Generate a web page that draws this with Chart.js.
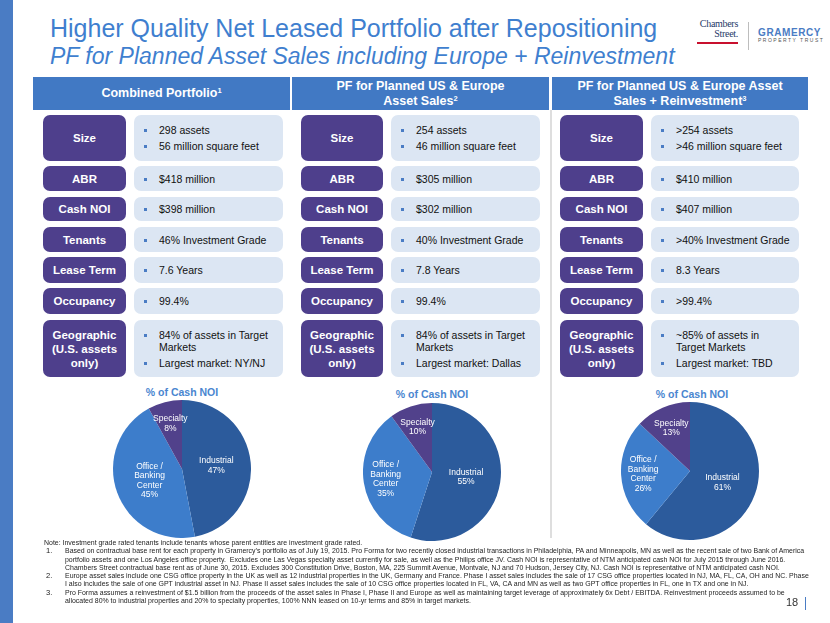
<!DOCTYPE html>
<html>
<head>
<meta charset="utf-8">
<title>Higher Quality Net Leased Portfolio after Repositioning</title>
<script src="https://cdn.jsdelivr.net/npm/chart.js@4.4.0/dist/chart.umd.min.js"></script>
<style>
  body { margin: 0; width: 830px; height: 623px; position: relative; overflow: hidden; background: #fff;
         font-family: "Liberation Sans", Arial, sans-serif; }
  .abs { position: absolute; }
  .strip { left: 0; top: 0; width: 13px; height: 623px; background: #4a7cc4; }
  .title { left: 50px; top: 14px; font-size: 25px; color: #3f7fcf; white-space: nowrap; }
  .subtitle { left: 50px; top: 43px; font-size: 23px; font-style: italic; color: #3f7fcf; white-space: nowrap; }
  .hdr { top: 77px; height: 33px; background: #4179c4; color: #fff; font-weight: bold; font-size: 12.5px;
         line-height: 14.5px; display: flex; align-items: center; justify-content: center; text-align: center; }
  .hdr .sup { font-size: 7.5px; position: relative; top: -4px; line-height: 0; }
  .lab { background: #4e3f8c; color: #fff; font-weight: bold; font-size: 11.5px; line-height: 14px;
         border-radius: 7px; display: flex; align-items: center; justify-content: center; text-align: center; }
  .val { background: #dce6f3; color: #111; font-size: 10.5px; line-height: 12px; border-radius: 7px;
         display: flex; flex-direction: column; justify-content: center; }
  .val div { position: relative; padding-left: 25px; white-space: nowrap; }
  .val div + div { margin-top: 4px; }
  .val div::before { content: ""; position: absolute; left: 10px; top: 5px; width: 3px; height: 3px; background: #4a7cc4; }
  .pietitle { width: 120px; text-align: center; font-weight: bold; font-size: 10.5px; color: #4a86d0; }
  .divider { left: 550px; top: 110px; width: 2px; height: 428px; background: #dedede; }
  .notes { left: 44px; top: 539px; font-family: "Liberation Sans Narrow", "Arial Narrow", "Liberation Sans", sans-serif;
           font-size: 7.6px; line-height: 8.3px; color: #222; white-space: nowrap; }
  .notes .row { display: flex; }
  .notes .num { width: 21px; padding-left: 2px; box-sizing: border-box; flex: none; }
  .notes .ntxt { flex: none; transform-origin: 0 0; }
</style>
</head>
<body>
<div class="abs strip"></div>
<div class="abs title">Higher Quality Net Leased Portfolio after Repositioning</div>
<div class="abs subtitle">PF for Planned Asset Sales including Europe + Reinvestment</div>

<div class="abs" style="left:680px;top:19px;width:58px;text-align:right;font-family:'Liberation Serif',serif;font-size:10px;line-height:10px;color:#1f3a68;letter-spacing:-0.3px;">Chambers<br>Street.</div>
<div class="abs" style="left:697px;top:42px;width:41px;height:2px;background:#c8102e;"></div>
<div class="abs" style="left:748px;top:22px;width:1px;height:28px;background:#bdbdbd;"></div>
<div class="abs" style="left:758px;top:27px;font-weight:bold;font-size:10px;letter-spacing:0.6px;color:#4a7cc4;">GRAMERCY</div>
<div class="abs" style="left:758px;top:37px;font-size:5px;letter-spacing:1.5px;color:#555;">PROPERTY TRUST</div>

<div id="table"></div>
<div class="abs divider"></div>

<div class="abs pietitle" style="left:122px;top:386px;">% of Cash NOI</div>
<div class="abs pietitle" style="left:372px;top:388px;">% of Cash NOI</div>
<div class="abs pietitle" style="left:632px;top:388px;">% of Cash NOI</div>
<canvas id="pie1" class="abs" width="138" height="138" style="left:113px;top:400px;"></canvas>
<canvas id="pie2" class="abs" width="138" height="138" style="left:363px;top:403px;"></canvas>
<canvas id="pie3" class="abs" width="138" height="138" style="left:621px;top:402px;"></canvas>

<div class="abs notes">
  <div class="row"><div class="ntxt">Note: Investment grade rated tenants include tenants whose parent entities are investment grade rated.</div></div>
  <div class="row"><div class="num">1.</div><div class="ntxt" id="note1">Based on contractual base rent for each property in Gramercy’s portfolio as of July 19, 2015. Pro Forma for two recently closed industrial transactions in Philadelphia, PA and Minneapolis, MN as well as the recent sale of two Bank of America<br>portfolio assets and one Los Angeles office property.&nbsp; Excludes one Las Vegas specialty asset currently for sale, as well as the Philips office JV. Cash NOI is representative of NTM anticipated cash NOI for July 2015 through June 2016.<br>Chambers Street contractual base rent as of June 30, 2015. Excludes 300 Constitution Drive, Boston, MA, 225 Summit Avenue, Montvale, NJ and 70 Hudson, Jersey City, NJ. Cash NOI is representative of NTM anticipated cash NOI.</div></div>
  <div class="row"><div class="num">2.</div><div class="ntxt">Europe asset sales include one CSG office property in the UK as well as 12 industrial properties in the UK, Germany and France. Phase I asset sales includes the sale of 17 CSG office properties located in NJ, MA, FL, CA, OH and NC. Phase<br>I also includes the sale of one GPT industrial asset in NJ. Phase II asset sales includes the sale of 10 CSG office properties located in FL, VA, CA and MN as well as two GPT office properties in FL, one in TX and one in NJ.</div></div>
  <div class="row"><div class="num">3.</div><div class="ntxt">Pro Forma assumes a reinvestment of $1.5 billion from the proceeds of the asset sales in Phase I, Phase II and Europe as well as maintaining target leverage of approximately 6x Debt / EBITDA. Reinvestment proceeds assumed to be<br>allocated 80% to industrial properties and 20% to specialty properties, 100% NNN leased on 10-yr terms and 85% in target markets.</div></div>
</div>
<div class="abs" style="left:786px;top:596px;font-size:11px;color:#333;">18</div>
<div class="abs" style="left:805px;top:597px;width:1px;height:13px;background:#4a7cc4;"></div>

<script>
// Pie data (% of Cash NOI)
const pieCategories = ['Industrial', 'Office / Banking Center', 'Specialty'];
const pieLabelLines = [['Industrial'], ['Office /', 'Banking', 'Center'], ['Specialty']];
const combinedNoi = [47, 45, 8];
const salesNoi = [55, 35, 10];
const reinvestNoi = [61, 26, 13];

// Table text
const columnHeaders = [
  'Combined Portfolio<span class="sup">1</span>',
  'PF for Planned US &amp; Europe<br>Asset Sales<span class="sup">2</span>',
  'PF for Planned US &amp; Europe Asset<br>Sales + Reinvestment<span class="sup">3</span>'
];
const rowLabels = ['Size', 'ABR', 'Cash NOI', 'Tenants', 'Lease Term', 'Occupancy', 'Geographic<br>(U.S. assets<br>only)'];
const combinedValues = [
  ['298 assets', '56 million square feet'], ['$418 million'], ['$398 million'],
  ['46% Investment Grade'], ['7.6 Years'], ['99.4%'],
  ['84% of assets in Target<br>Markets', 'Largest market: NY/NJ']
];
const salesValues = [
  ['254 assets', '46 million square feet'], ['$305 million'], ['$302 million'],
  ['40% Investment Grade'], ['7.8 Years'], ['99.4%'],
  ['84% of assets in Target<br>Markets', 'Largest market: Dallas']
];
const reinvestValues = [
  ['&gt;254 assets', '&gt;46 million square feet'], ['$410 million'], ['$407 million'],
  ['&gt;40% Investment Grade'], ['8.3 Years'], ['&gt;99.4%'],
  ['~85% of assets in<br>Target Markets', 'Largest market: TBD']
];

// layout of the table
const hdrBoxes = [[33, 257], [292, 257], [552, 256]];
const colBoxes = [[43, 83, 134, 149], [301, 82, 391, 149], [560, 83, 651, 148]];
const rowBoxes = [[115, 46], [166, 25], [197, 24], [227, 25], [257, 26], [288, 26], [320, 57]];
const allValues = [combinedValues, salesValues, reinvestValues];

let html = '';
columnHeaders.forEach((h, c) => {
  html += `<div class="abs hdr" style="left:${hdrBoxes[c][0]}px;width:${hdrBoxes[c][1]}px;"><div>${h}</div></div>`;
  rowLabels.forEach((lab, r) => {
    const [top, height] = rowBoxes[r];
    const [lx, lw, vx, vw] = colBoxes[c];
    html += `<div class="abs lab" style="left:${lx}px;top:${top}px;width:${lw}px;height:${height}px;"><div>${lab}</div></div>`;
    html += `<div class="abs val" style="left:${vx}px;top:${top}px;width:${vw}px;height:${height}px;">` +
      allValues[c][r].map(t => `<div>${t}</div>`).join('') + '</div>';
  });
});
document.getElementById('table').innerHTML = html;

// squeeze the footnotes horizontally so that note 1 ends near the right margin
const note1 = document.getElementById('note1');
const squeeze = Math.min(1, (804 - 65) / note1.offsetWidth);
document.querySelectorAll('.ntxt').forEach(el => {
  el.style.transform = `scaleX(${squeeze})`;
});

// draws the category name + percent inside each slice
const sliceLabels = {
  id: 'sliceLabels',
  afterDatasetsDraw(chart) {
    const ctx = chart.ctx;
    const values = chart.data.datasets[0].data;
    ctx.save();
    ctx.fillStyle = '#ffffff';
    ctx.font = '8.5px "Liberation Sans", Arial, sans-serif';
    ctx.textAlign = 'center';
    ctx.textBaseline = 'middle';
    chart.getDatasetMeta(0).data.forEach((arc, i) => {
      const p = arc.getProps(['x', 'y', 'startAngle', 'endAngle', 'outerRadius'], true);
      const mid = (p.startAngle + p.endAngle) / 2;
      const k = values[i] >= 45 ? 0.5 : 0.68;
      const cx = p.x + Math.cos(mid) * p.outerRadius * k;
      const cy = p.y + Math.sin(mid) * p.outerRadius * k;
      const lines = pieLabelLines[i].concat(values[i] + '%');
      lines.forEach((t, j) => ctx.fillText(t, cx, cy + (j - (lines.length - 1) / 2) * 9.5));
    });
    ctx.restore();
  }
};

const sliceColors = ['#2c5b9c', '#3d7dcb', '#51418b'];

function makePie(id, values) {
  return new Chart(document.getElementById(id), {
    type: 'pie',
    data: {
      labels: pieCategories,
      datasets: [{ data: values, backgroundColor: sliceColors, borderWidth: 0 }]
    },
    options: {
      responsive: false,
      animation: false,
      layout: { padding: 0 },
      plugins: { legend: { display: false }, tooltip: { enabled: false } }
    },
    plugins: [sliceLabels]
  });
}

makePie('pie1', combinedNoi);
makePie('pie2', salesNoi);
makePie('pie3', reinvestNoi);
</script>
</body>
</html>
